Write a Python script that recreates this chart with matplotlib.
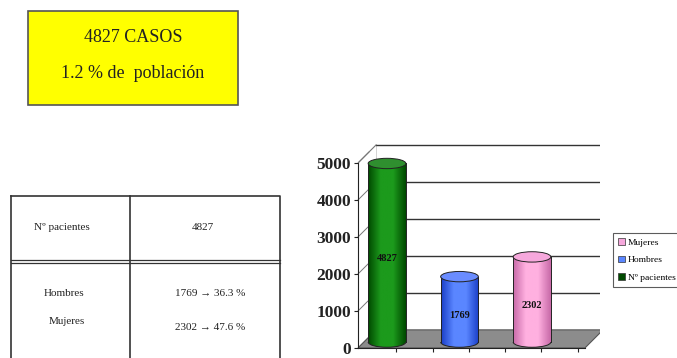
import matplotlib
matplotlib.use("Agg")
import matplotlib.pyplot as plt
import numpy as np
from matplotlib.patches import Rectangle, Ellipse, Arc, Polygon, Patch
from matplotlib.colors import LinearSegmentedColormap

# ---- data ----
categories = ["Nº pacientes", "Hombres", "Mujeres"]
values = [4827, 1769, 2302]
legend_labels = ["Mujeres", "Hombres", "Nº pacientes"]
yticks = [0, 1000, 2000, 3000, 4000, 5000]
box_lines = ["4827 CASOS", "1.2 % de  población"]
table_rows = [("Nº pacientes", "4827"),
              ("Hombres", "1769 → 36.3 %"),
              ("Mujeres", "2302 → 47.6 %")]

# colours: (dark, light, top)
bar_colors = [("#004a00", "#1c9a1c", "#2f8f2f"),
              ("#1a3fc8", "#5a86ff", "#6a8cff"),
              ("#c86aa8", "#ffb0e0", "#f6a8dc")]

W, H = 677, 358
fig = plt.figure(figsize=(W / 100, H / 100), dpi=100)
fig.patch.set_facecolor("white")
serif = ["Liberation Serif", "DejaVu Serif"]

# ---- overlay axes in pixel coordinates for box & table ----
ov = fig.add_axes([0, 0, 1, 1])
ov.set_xlim(0, W)
ov.set_ylim(H, 0)
ov.axis("off")

ov.add_patch(Rectangle((28, 11), 210, 94, facecolor="#ffff00",
                       edgecolor="#555555", linewidth=1.2))
ov.text(133, 38, box_lines[0], ha="center", va="center", fontsize=13,
        family=serif, color="#222222")
ov.text(133, 74, box_lines[1], ha="center", va="center", fontsize=13,
        family=serif, color="#222222")

# table
lc = "#333333"
ov.plot([11, 280, 280], [196, 196, 362], color=lc, lw=1.2)
ov.plot([11, 11], [196, 362], color=lc, lw=1.2)
ov.plot([130, 130], [196, 362], color=lc, lw=1.2)
ov.plot([11, 280], [260, 260], color=lc, lw=0.9)
ov.plot([11, 280], [263, 263], color=lc, lw=0.9)
tfs = 8
ov.text(62, 228, table_rows[0][0], ha="center", va="center", fontsize=tfs,
        family=serif, color="#222222")
ov.text(203, 228, table_rows[0][1], ha="center", va="center", fontsize=tfs,
        family=serif, color="#222222")
ov.text(64, 294, table_rows[1][0], ha="center", va="center", fontsize=tfs,
        family=serif, color="#222222")
ov.text(67, 322, table_rows[2][0], ha="center", va="center", fontsize=tfs,
        family=serif, color="#222222")
ov.text(210, 294, table_rows[1][1], ha="center", va="center", fontsize=tfs,
        family=serif, color="#222222")
ov.text(210, 328, table_rows[2][1], ha="center", va="center", fontsize=tfs,
        family=serif, color="#222222")

# ---- chart axes ----
px_per_unit_y = 37.0 / 1000.0
px_per_unit_x = 72.5
x0, x1 = -0.40, 2.94
y0, y1 = 0, 5550
left = 358
bottom = 348
ax = fig.add_axes([left / W, (H - bottom) / H,
                   (x1 - x0) * px_per_unit_x / W, (y1 - y0) * px_per_unit_y / H])
ax.set_facecolor("none")
ddx, ddy = 0.25, 490  # depth offset
xf = 2.73

# floor
ax.add_patch(Polygon([(x0, 0), (xf, 0), (xf + ddx, ddy), (x0 + ddx, ddy)],
                     closed=True, facecolor="#8c8c8c", edgecolor="#555555",
                     lw=0.8, zorder=1))
# back gridlines
for v in yticks[1:]:
    ax.plot([x0 + ddx, x1], [v + ddy, v + ddy], color="#333333", lw=1.0, zorder=0.5)
for v in yticks:
    ax.plot([x0, x0 + ddx * 0.6], [v, v + ddy * 0.6], color="#777777", lw=0.7,
            zorder=0.5, clip_on=False)
ax.plot([x0, x0 + ddx], [5000, 5000 + ddy], color="#777777", lw=0.8, zorder=0.5)
ax.plot([x0 + ddx, x0 + ddx], [ddy, 5000 + ddy], color="#cccccc", lw=0.6, zorder=0.4)

# cylinders
w = 0.52
eh = 280
base = 160
for i, (v, (dk, lt, tp)) in enumerate(zip(values, bar_colors)):
    xc = i
    cmap = LinearSegmentedColormap.from_list("c", [dk, lt, lt, dk])
    grad = np.linspace(0, 1, 64).reshape(1, -1)
    body = Rectangle((xc - w / 2, base), w, v, facecolor="none", edgecolor="none")
    ax.add_patch(body)
    im = ax.imshow(grad, extent=[xc - w / 2, xc + w / 2, base, base + v],
                   aspect="auto", cmap=cmap, zorder=2)
    im.set_clip_path(body)
    bot = Ellipse((xc, base), w, eh, facecolor="none", edgecolor="none")
    ax.add_patch(bot)
    im2 = ax.imshow(grad, extent=[xc - w / 2, xc + w / 2, base - eh / 2, base],
                    aspect="auto", cmap=cmap, zorder=2)
    im2.set_clip_path(bot)
    ax.add_patch(Arc((xc, base), w, eh, theta1=180, theta2=360,
                     color="#222222", lw=0.7, zorder=3))
    ax.plot([xc - w / 2, xc - w / 2], [base, base + v], color="#222222", lw=0.7, zorder=3)
    ax.plot([xc + w / 2, xc + w / 2], [base, base + v], color="#222222", lw=0.7, zorder=3)
    ax.add_patch(Ellipse((xc, base + v), w, eh, facecolor=tp,
                         edgecolor="#222222", lw=0.7, zorder=4))
    ax.text(xc, v / 2, str(v), ha="center", va="center", fontsize=7.5,
            fontweight="bold", family=serif, color="#111111", zorder=5)

ax.set_xlim(x0, x1)
ax.set_ylim(y0, y1)
ax.set_yticks(yticks)
ax.set_yticklabels([str(t) for t in yticks], family=serif, fontweight="bold",
                   fontsize=12.5)
ax.set_xticks([-0.37 + 0.5 * k for k in range(1, 7)])
ax.set_xticklabels([])
ax.tick_params(axis="y", length=3, width=0.8, pad=2, colors="#222222")
ax.tick_params(axis="x", length=3, width=0.8, direction="out", colors="#222222")
for s in ["top", "right"]:
    ax.spines[s].set_visible(False)
ax.spines["left"].set_bounds(0, 5000)
ax.spines["bottom"].set_bounds(x0, xf)
ax.spines["left"].set_color("#222222")
ax.spines["bottom"].set_color("#222222")

handles = [Patch(facecolor=bar_colors[2][2], edgecolor="#333333", lw=0.5),
           Patch(facecolor=bar_colors[1][1], edgecolor="#333333", lw=0.5),
           Patch(facecolor=bar_colors[0][0], edgecolor="#333333", lw=0.5)]
leg = fig.legend(handles, legend_labels, loc="upper left",
                 bbox_to_anchor=(613 / W, 1 - 233 / H),
                 prop={"family": serif, "size": 6.8},
                 frameon=True, fancybox=False, edgecolor="#333333",
                 handlelength=0.7, handleheight=0.7, handletextpad=0.35,
                 borderpad=0.55, labelspacing=0.95, borderaxespad=0)
leg.get_frame().set_linewidth(0.8)

fig.savefig("out.png", dpi=100)
